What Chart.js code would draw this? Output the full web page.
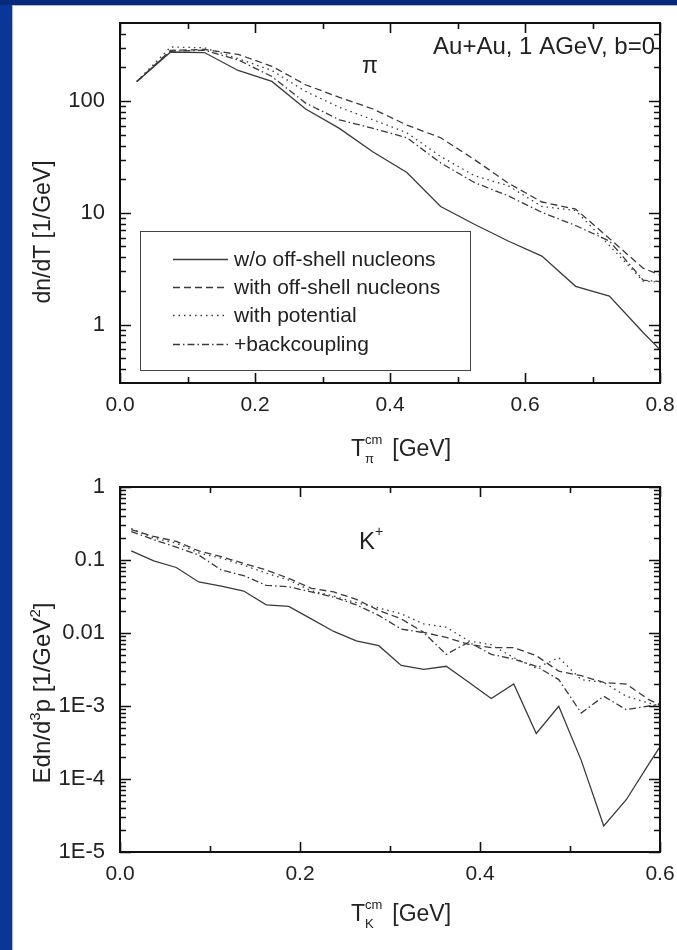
<!DOCTYPE html>
<html>
<head>
<meta charset="utf-8">
<script src="https://cdn.jsdelivr.net/npm/chart.js@4.4.0/dist/chart.umd.min.js"></script>
<style>
  body { margin: 0; width: 677px; height: 950px; overflow: hidden; background: #0a369a; position: relative; }
  #topbar { position: absolute; left: 0; top: 0; width: 677px; height: 5px; background: #062a78; }
  #sheet { position: absolute; left: 12px; top: 5px; width: 665px; height: 945px; background: #fff; border-left: 1px solid #a9b8dc; border-top: 1px solid #a9b8dc; }
  canvas { position: absolute; }
</style>
</head>
<body>
<div id="topbar"></div>
<div id="sheet"></div>
<canvas id="pi-chart" width="664" height="465" style="left:13px;top:5px"></canvas>
<canvas id="k-chart" width="664" height="480" style="left:13px;top:470px"></canvas>
<script>
// pion spectra, Au+Au 1 AGeV b=0
var xPi = [0.025, 0.075, 0.125, 0.175, 0.225, 0.275, 0.325, 0.375, 0.425, 0.475, 0.525, 0.575, 0.625, 0.675, 0.725, 0.775, 0.825];
var piWithout = [150, 275, 272, 188, 150, 85, 57, 35, 23, 11.4, 7.9, 5.6, 4.1, 2.2, 1.8, 0.85, 0.42];
var piOffShell = [150, 285, 290, 262, 205, 140, 108, 85, 61, 47, 30, 18.5, 12.5, 10.8, 5.9, 3.2, 2.4];
var piPotential = [150, 305, 300, 240, 188, 122, 88, 68, 52, 32, 21.5, 17.5, 11.4, 10.5, 5.1, 2.45, 2.35];
var piBackcoupling = [150, 280, 285, 234, 166, 96, 68, 57, 47, 28, 18.7, 14.2, 10.1, 7.7, 5.6, 2.5, 2.35];

// kaon spectra
var xK = [0.0125, 0.0375, 0.0625, 0.0875, 0.1125, 0.1375, 0.1625, 0.1875, 0.2125, 0.2375, 0.2625, 0.2875, 0.3125,
          0.3375, 0.3625, 0.3875, 0.4125, 0.4375, 0.4625, 0.4875, 0.5125, 0.5375, 0.5625, 0.5875, 0.6125];
var kWithout = [0.133, 0.097, 0.079, 0.050, 0.044, 0.0376, 0.0243, 0.0231, 0.0156, 0.0105, 0.0078, 0.0067, 0.0036,
                0.00317, 0.0035, 0.00212, 0.00127, 0.00201, 0.00042, 0.00099, 0.00018, 0.0000228, 0.000052, 0.00016, 0.00048];
var kOffShell = [0.26, 0.21, 0.18, 0.133, 0.111, 0.09, 0.073, 0.056, 0.041, 0.0365, 0.0289, 0.0204, 0.0156,
                 0.0102, 0.0087, 0.007, 0.0063, 0.0063, 0.0049, 0.003, 0.0026, 0.0021, 0.002, 0.00122, 0.0009];
var kPotential = [0.27, 0.2, 0.17, 0.125, 0.106, 0.085, 0.066, 0.053, 0.038, 0.032, 0.026, 0.022, 0.0183,
                  0.0133, 0.012, 0.0078, 0.0069, 0.0046, 0.0033, 0.0046, 0.0023, 0.0021, 0.00136, 0.0011, 0.0009];
var kBackcoupling = [0.245, 0.19, 0.15, 0.117, 0.073, 0.061, 0.045, 0.043, 0.0365, 0.031, 0.0243, 0.0174, 0.0113,
                     0.0101, 0.0051, 0.0075, 0.0051, 0.0044, 0.0035, 0.0023, 0.0008, 0.00136, 0.00089, 0.001, 0.0011];

var seriesLabels = ["w/o off-shell nucleons", "with off-shell nucleons", "with potential", "+backcoupling"];

var piXTicks = [0, 0.2, 0.4, 0.6, 0.8];
var piXMinor = [0.1, 0.3, 0.5, 0.7];
var piYTicks = [1, 10, 100];
var piYLabels = ["1", "10", "100"];

var kXTicks = [0, 0.2, 0.4, 0.6];
var kXMinor = [0.1, 0.3, 0.5];
var kYTicks = [1e-5, 1e-4, 1e-3, 0.01, 0.1, 1];
var kYLabels = ["1E-5", "1E-4", "1E-3", "0.01", "0.1", "1"];

var FONT = '"Liberation Sans", Arial, sans-serif';
var INK = "#222";
var seriesDash = [[], [7, 4], [1.5, 4], [7, 3, 1.5, 3]];

function buildDatasets(xs, series) {
  return series.map(function(vals, i) {
    return {
      label: seriesLabels[i],
      data: xs.map(function(x, j) { return { x: x, y: vals[j] }; }),
      borderColor: "#3a3a3a",
      borderWidth: 1.3,
      borderDash: seriesDash[i],
      pointRadius: 0,
      fill: false,
      tension: 0
    };
  });
}

// text with sub / superscripts, parts: {t, size, dy, stay}
function drawRich(ctx, parts, cx, y) {
  var total = 0;
  parts.forEach(function(p) {
    ctx.font = p.size + "px " + FONT;
    p.w = ctx.measureText(p.t).width;
    if (!p.stay) total += p.w + (p.gap || 0);
  });
  var x = cx - total / 2;
  ctx.textAlign = "left";
  ctx.textBaseline = "alphabetic";
  parts.forEach(function(p) {
    x += (p.gap || 0);
    ctx.font = p.size + "px " + FONT;
    ctx.fillText(p.t, x, y + (p.dy || 0));
    if (!p.stay) x += p.w;
  });
}

function logMinor(min, max) {
  var out = [];
  for (var d = Math.floor(Math.log10(min)); d <= Math.ceil(Math.log10(max)); d++) {
    for (var k = 2; k <= 9; k++) {
      var v = k * Math.pow(10, d);
      if (v > min && v < max) out.push(v);
    }
  }
  return out;
}

function framePlugin(c) {
  return {
    id: "frame-" + c.id,
    afterDatasetsDraw: function(chart) {
      var ctx = chart.ctx, a = chart.chartArea, xs = chart.scales.x, ys = chart.scales.y;
      ctx.save();
      ctx.strokeStyle = "#111";
      ctx.lineWidth = 1.6;
      ctx.setLineDash([]);
      ctx.beginPath();
      function xt(v, len) {
        var px = Math.round(xs.getPixelForValue(v)) + 0.5;
        ctx.moveTo(px, a.bottom); ctx.lineTo(px, a.bottom - len);
        ctx.moveTo(px, a.top); ctx.lineTo(px, a.top + len);
      }
      function yt(v, len) {
        var py = Math.round(ys.getPixelForValue(v)) + 0.5;
        ctx.moveTo(a.left, py); ctx.lineTo(a.left + len, py);
        ctx.moveTo(a.right, py); ctx.lineTo(a.right - len, py);
      }
      c.xTicks.forEach(function(v) { xt(v, 10); });
      c.xMinor.forEach(function(v) { xt(v, 6); });
      c.yTicks.forEach(function(v) { yt(v, 11); });
      logMinor(c.yMin, c.yMax).forEach(function(v) { yt(v, 6); });
      ctx.stroke();
      ctx.lineWidth = 2;
      ctx.strokeRect(a.left, a.top, a.right - a.left, a.bottom - a.top);

      ctx.fillStyle = INK;
      c.extras(ctx, chart);
      ctx.restore();
    }
  };
}

function makeChart(c) {
  return new Chart(document.getElementById(c.id).getContext("2d"), {
    type: "line",
    data: { datasets: buildDatasets(c.xs, c.series) },
    options: {
      responsive: false,
      animation: false,
      devicePixelRatio: 1,
      layout: { padding: { left: 0, right: 17, top: c.top, bottom: 0 } },
      plugins: { legend: { display: false }, tooltip: { enabled: false } },
      scales: {
        x: {
          type: "linear",
          min: c.xMin,
          max: c.xMax,
          grid: { display: false },
          border: { display: false },
          afterBuildTicks: function(s) { s.ticks = c.xTicks.map(function(v) { return { value: v }; }); },
          afterFit: function(s) { s.height = c.xHeight; },
          ticks: {
            autoSkip: false, maxRotation: 0, padding: 2, color: INK,
            font: { family: FONT, size: 21 },
            callback: function(v) { return Number(v).toFixed(1); }
          }
        },
        y: {
          type: "logarithmic",
          min: c.yMin,
          max: c.yMax,
          grid: { display: false },
          border: { display: false },
          afterBuildTicks: function(s) { s.ticks = c.yTicks.map(function(v) { return { value: v }; }); },
          afterFit: function(s) { s.width = 107; s.paddingTop = 0; s.paddingBottom = 0; },
          ticks: {
            autoSkip: false, padding: 7, color: INK,
            font: { family: FONT, size: 22 },
            callback: function(v, i) { return c.yLabels[i]; }
          }
        }
      }
    },
    plugins: [framePlugin(c)]
  });
}

document.addEventListener("DOMContentLoaded", function() {
  makeChart({
    id: "pi-chart",
    xs: xPi,
    series: [piWithout, piOffShell, piPotential, piBackcoupling],
    xMin: 0, xMax: 0.8, xTicks: piXTicks, xMinor: piXMinor,
    yMin: 0.33, yMax: 500, yTicks: piYTicks, yLabels: piYLabels,
    top: 18, xHeight: 87,
    extras: function(ctx, chart) {
      ctx.font = "23px " + FONT;
      ctx.textAlign = "center";
      ctx.fillText("\u03c0", 357, 68);
      ctx.font = "24px " + FONT;
      ctx.textAlign = "right";
      ctx.fillText("Au+Au, 1 AGeV, b=0", 642, 49);

      // legend
      ctx.strokeStyle = "#444";
      ctx.lineWidth = 1;
      ctx.strokeRect(127.5, 226.5, 330, 139);
      var rows = [254, 282, 310, 339];
      chart.data.datasets.forEach(function(ds, i) {
        ctx.strokeStyle = "#3a3a3a";
        ctx.lineWidth = 1.3;
        ctx.setLineDash(ds.borderDash);
        ctx.beginPath();
        ctx.moveTo(160, rows[i] + 0.5);
        ctx.lineTo(215, rows[i] + 0.5);
        ctx.stroke();
        ctx.setLineDash([]);
        ctx.font = "21px " + FONT;
        ctx.textAlign = "left";
        ctx.fillText(ds.label, 221, rows[i] + 7);
      });

      // axis titles
      drawRich(ctx, [
        { t: "T", size: 23 },
        { t: "\u03c0", size: 13, dy: 7, stay: true },
        { t: "cm", size: 13, dy: -12 },
        { t: "[GeV]", size: 23, gap: 10 }
      ], 388, 451);
      ctx.save();
      ctx.translate(29, 227);
      ctx.rotate(-Math.PI / 2);
      drawRich(ctx, [{ t: "dn/dT [1/GeV]", size: 23 }], 0, 8);
      ctx.restore();
    }
  });

  makeChart({
    id: "k-chart",
    xs: xK,
    series: [kWithout, kOffShell, kPotential, kBackcoupling],
    xMin: 0, xMax: 0.6, xTicks: kXTicks, xMinor: kXMinor,
    yMin: 1e-5, yMax: 1, yTicks: kYTicks, yLabels: kYLabels,
    top: 17, xHeight: 98,
    extras: function(ctx) {
      drawRich(ctx, [
        { t: "K", size: 24 },
        { t: "+", size: 14, dy: -13 }
      ], 358, 79);
      drawRich(ctx, [
        { t: "T", size: 23 },
        { t: "K", size: 13, dy: 7, stay: true },
        { t: "cm", size: 13, dy: -12 },
        { t: "[GeV]", size: 23, gap: 10 }
      ], 388, 451);
      ctx.save();
      ctx.translate(29, 223);
      ctx.rotate(-Math.PI / 2);
      drawRich(ctx, [
        { t: "Edn/d", size: 24 },
        { t: "3", size: 15, dy: -10 },
        { t: "p [1/GeV", size: 24 },
        { t: "2", size: 15, dy: -10 },
        { t: "]", size: 24 }
      ], 0, 8);
      ctx.restore();
    }
  });
});
</script>
</body>
</html>
